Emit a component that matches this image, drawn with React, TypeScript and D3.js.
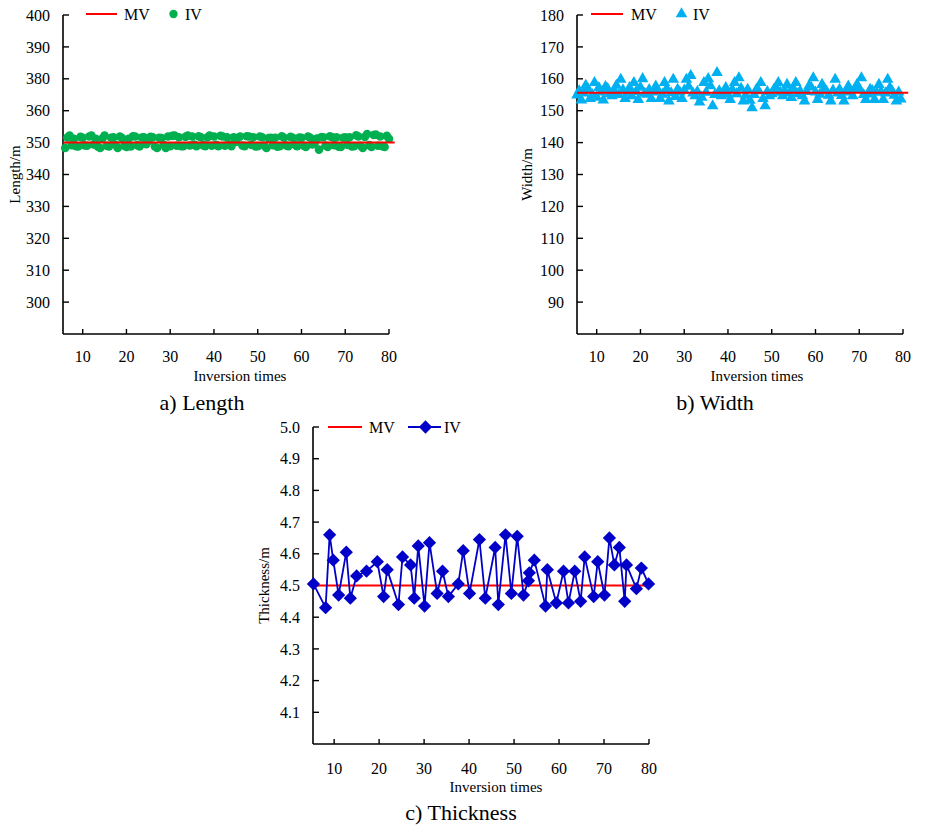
import React from "react";
import * as d3 from "d3";

// ---------- data ----------
const xTicks = [10, 20, 30, 40, 50, 60, 70, 80];

const lengthMV = 350;
// IV values at x = 6, 7, ..., 80
const lengthIV = [
  348.3, 352.2, 351.2, 348.8, 351.5, 349.0, 352.2, 351.2, 348.3, 352.2,
  348.8, 351.7, 348.3, 351.4, 348.6, 348.8, 351.9, 348.8, 351.7, 350.4,
  351.7, 348.3, 351.4, 348.3, 348.9, 352.2, 351.7, 348.9, 352.2, 351.9,
  348.9, 351.7, 348.9, 352.2, 351.9, 348.9, 351.9, 351.7, 348.9, 350.2,
  351.9, 348.9, 351.9, 351.7, 348.9, 351.7, 348.3, 351.5, 351.5, 348.9,
  351.5, 348.9, 351.5, 348.9, 351.5, 348.6, 351.5, 349.8, 347.8, 351.7,
  348.6, 351.7, 351.7, 348.6, 351.7, 351.7, 348.9, 351.9, 348.3, 352.7,
  348.6, 352.5, 351.9, 348.6, 351.2,
];
// IV values at x = 6.5, 7.5, ..., 79.5
const lengthIVHalf = [
  351.6, 349.2, 348.9, 351.8, 349.1, 351.9, 349.4, 348.7, 351.3, 349.0,
  351.5, 349.3, 351.9, 349.0, 351.2, 352.0, 349.2, 351.6, 349.5, 351.8,
  348.8, 351.5, 349.3, 351.9, 352.1, 349.0, 348.9, 351.8, 349.1, 349.4,
  352.0, 349.2, 351.6, 349.0, 349.3, 352.1, 349.0, 349.4, 351.7, 351.5,
  349.1, 352.0, 349.3, 348.8, 351.9, 349.0, 351.4, 349.2, 348.7, 352.0,
  349.1, 351.8, 349.3, 351.6, 349.0, 351.9, 349.4, 351.3, 351.7, 349.1,
  352.0, 349.2, 348.7, 351.5, 349.3, 348.8, 352.3, 349.0, 351.8, 349.2,
  352.4, 349.0, 348.9, 352.1,
];
const lengthTickValues = [300, 310, 320, 330, 340, 350, 360, 370, 380, 390];
const lengthTickLabels = ["300", "310", "320", "330", "340", "350", "360", "380", "390", "400"];

const widthMV = 155.6;
// IV values at x = 5.5, 6.5, ..., 79.5
const widthIV = [
  154.9, 153.3, 157.9, 153.8, 158.8, 157.2, 153.3, 156.9, 154.6, 157.9,
  159.8, 153.8, 157.2, 158.8, 153.5, 160.0, 155.1, 153.8, 157.7, 153.8,
  158.8, 153.0, 159.8, 156.7, 153.8, 159.8, 161.0, 154.6, 152.7, 158.8,
  160.0, 151.5, 161.9, 154.6, 157.2, 153.5, 158.8, 160.3, 153.0, 156.7,
  150.9, 156.7, 158.8, 151.5, 154.6, 156.7, 158.8, 154.6, 158.2, 154.1,
  158.8, 156.1, 153.0, 157.7, 160.3, 153.5, 158.2, 156.1, 153.0, 159.8,
  156.7, 153.0, 157.7, 154.6, 158.2, 160.3, 153.5, 156.7, 153.5, 158.2,
  153.5, 159.8, 156.1, 153.0, 153.6,
];
// IV values at x = 6.0, 7.0, ..., 79.0
const widthIVHalf = [
  156.2, 155.5, 156.8, 155.0, 154.2, 155.8, 157.5, 155.3, 156.3, 155.0,
  156.5, 155.7, 154.6, 156.0, 157.3, 155.4, 156.6, 155.8, 156.3, 155.1,
  156.9, 155.6, 154.4, 155.8, 156.4, 157.6, 155.5, 156.0, 154.2, 155.7,
  157.8, 155.0, 156.2, 155.9, 155.1, 156.6, 155.3, 157.0, 154.8, 153.2,
  155.0, 156.2, 153.8, 156.0, 155.3, 157.2, 155.7, 156.3, 155.5, 156.8,
  155.3, 154.6, 156.0, 157.4, 155.8, 155.1, 157.0, 154.8, 156.4, 155.5,
  154.7, 156.0, 155.8, 156.9, 156.8, 155.0, 155.2, 156.3, 155.7, 156.0,
  155.5, 157.2, 154.8, 155.8,
];
const widthTickValues = [90, 100, 110, 120, 130, 140, 150, 160, 170, 180];

const thickMV = 4.5;
const thickX = [
  5.4, 8.1, 9.0, 9.8, 11.0, 12.7, 13.6, 15.0, 17.2, 19.6,
  21.0, 21.8, 24.3, 25.2, 27.0, 27.8, 28.7, 30.1, 31.2, 32.9,
  34.1, 35.4, 37.6, 38.7, 40.1, 42.3, 43.6, 45.8, 46.5, 48.1,
  49.4, 50.7, 52.1, 53.2, 53.4, 54.5, 57.0, 57.4, 59.4, 61.0,
  62.1, 63.5, 64.8, 65.7, 67.7, 68.6, 70.1, 71.2, 72.3, 73.4,
  74.6, 75.0, 77.2, 78.3, 79.9,
];
const thickIV = [
  4.505, 4.43, 4.66, 4.58, 4.47, 4.605, 4.46, 4.53, 4.545, 4.575,
  4.465, 4.55, 4.44, 4.59, 4.565, 4.46, 4.625, 4.435, 4.635, 4.475,
  4.545, 4.465, 4.505, 4.61, 4.475, 4.645, 4.46, 4.62, 4.44, 4.66,
  4.475, 4.655, 4.47, 4.515, 4.54, 4.58, 4.435, 4.55, 4.445, 4.545,
  4.445, 4.545, 4.45, 4.59, 4.465, 4.575, 4.47, 4.65, 4.565, 4.62,
  4.45, 4.565, 4.49, 4.555, 4.505,
];
const thickTickValues = [4.1, 4.2, 4.3, 4.4, 4.5, 4.6, 4.7, 4.8, 4.9, 5.0];

// ---------- styles ----------
const FONT = "'Liberation Serif', 'Times New Roman', serif";
const RED = "#FF0000";
const GREEN = "#00B050";
const CYAN = "#00B0F0";
const BLUE = "#0000C8";

type AxisProps = {
  x: d3.ScaleLinear<number, number>;
  y: d3.ScaleLinear<number, number>;
  yTicks: number[];
  yLabels: string[];
  yTitle: string;
  yTitleX: number;
  xTitleX: number;
  xTitleY: number;
  caption: string;
  captionX: number;
  captionY: number;
  xLabelY: number;
};

function Axes(p: AxisProps) {
  const [x0, x1] = p.x.range();
  const [y0, y1] = p.y.range(); // y0 bottom, y1 top
  return (
    <g>
      <line x1={x0} x2={x0} y1={y0} y2={y1} stroke="#000" strokeWidth={1.6} />
      <line x1={x0} x2={x1} y1={y0} y2={y0} stroke="#000" strokeWidth={1.6} />
      {p.yTicks.map((t, i) => (
        <g key={"y" + i}>
          <line x1={x0} x2={x0 + 6} y1={p.y(t)} y2={p.y(t)} stroke="#000" strokeWidth={1.4} />
          <text x={x0 - 13} y={p.y(t)} dy="0.35em" textAnchor="end" fontSize={16} fontFamily={FONT}>
            {p.yLabels[i]}
          </text>
        </g>
      ))}
      {xTicks.map((t) => (
        <g key={"x" + t}>
          <line x1={p.x(t)} x2={p.x(t)} y1={y0} y2={y0 - 5} stroke="#000" strokeWidth={1.4} />
          <text x={p.x(t)} y={p.xLabelY} textAnchor="middle" fontSize={16} fontFamily={FONT}>
            {t}
          </text>
        </g>
      ))}
      <text x={p.xTitleX} y={p.xTitleY} textAnchor="middle" fontSize={15} fontFamily={FONT}>
        Inversion times
      </text>
      <text
        transform={`translate(${p.yTitleX},${(y0 + y1) / 2}) rotate(-90)`}
        textAnchor="middle"
        dy="0.35em"
        fontSize={15}
        fontFamily={FONT}
      >
        {p.yTitle}
      </text>
      <text x={p.captionX} y={p.captionY} textAnchor="middle" fontSize={22} fontFamily={FONT}>
        {p.caption}
      </text>
    </g>
  );
}

export default function App() {
  // Panel a
  const xA = d3.scaleLinear().domain([5.5, 80]).range([63, 389]);
  const yA = d3.scaleLinear().domain([290, 390]).range([334, 15]);
  // Panel b
  const xB = d3.scaleLinear().domain([5.5, 80]).range([577, 903]);
  const yB = d3.scaleLinear().domain([80, 180]).range([334, 15]);
  // Panel c
  const xC = d3.scaleLinear().domain([5.3, 80]).range([313, 649]);
  const yC = d3.scaleLinear().domain([4.0, 5.0]).range([744, 427]);

  const tri = d3.symbol(d3.symbolTriangle, 58)() as string;
  const diamond = d3.symbol(d3.symbolSquare, 88)() as string;

  const lineC = d3
    .line<number>()
    .x((_, i) => xC(thickX[i]))
    .y((d) => yC(d));

  return (
    <svg
      width={926}
      height={825}
      style={{ position: "absolute", left: 0, top: 0, background: "#fff", display: "block" }}
    >
      <rect width={926} height={825} fill="#fff" />

      {/* ---------- Panel a ---------- */}
      <Axes
        x={xA}
        y={yA}
        yTicks={lengthTickValues}
        yLabels={lengthTickLabels}
        yTitle="Length/m"
        yTitleX={15}
        xTitleX={240}
        xTitleY={381}
        caption="a) Length"
        captionX={202}
        captionY={410}
        xLabelY={362}
      />
      {lengthIVHalf.map((v, i) => (
        <circle key={"h" + i} cx={xA(6.5 + i)} cy={yA(v)} r={4.3} fill={GREEN} />
      ))}
      {lengthIV.map((v, i) => (
        <circle key={i} cx={xA(6 + i)} cy={yA(v)} r={4.3} fill={GREEN} />
      ))}
      <line x1={xA(5.5)} x2={xA(81.3)} y1={yA(lengthMV)} y2={yA(lengthMV)} stroke={RED} strokeWidth={2} />
      {/* legend a */}
      <line x1={86} x2={117} y1={14} y2={14} stroke={RED} strokeWidth={2} />
      <text x={124} y={14} dy="0.35em" fontSize={16} fontFamily={FONT}>MV</text>
      <circle cx={173.5} cy={14} r={4.2} fill={GREEN} />
      <text x={185} y={14} dy="0.35em" fontSize={16} fontFamily={FONT}>IV</text>

      {/* ---------- Panel b ---------- */}
      <Axes
        x={xB}
        y={yB}
        yTicks={widthTickValues}
        yLabels={widthTickValues.map(String)}
        yTitle="Width/m"
        yTitleX={527}
        xTitleX={757}
        xTitleY={381}
        caption="b) Width"
        captionX={715}
        captionY={410}
        xLabelY={362}
      />
      {widthIVHalf.map((v, i) => (
        <path key={"h" + i} d={tri} transform={`translate(${xB(6 + i)},${yB(v)})`} fill={CYAN} />
      ))}
      {widthIV.map((v, i) => (
        <path key={i} d={tri} transform={`translate(${xB(5.5 + i)},${yB(v)})`} fill={CYAN} />
      ))}
      <line x1={xB(5.5)} x2={xB(81.2)} y1={yB(widthMV)} y2={yB(widthMV)} stroke={RED} strokeWidth={2} />
      {/* legend b */}
      <line x1={591} x2={623} y1={14} y2={14} stroke={RED} strokeWidth={2} />
      <text x={631} y={14} dy="0.35em" fontSize={16} fontFamily={FONT}>MV</text>
      <path d={tri} transform={`translate(681.5,14)`} fill={CYAN} />
      <text x={693} y={14} dy="0.35em" fontSize={16} fontFamily={FONT}>IV</text>

      {/* ---------- Panel c ---------- */}
      <Axes
        x={xC}
        y={yC}
        yTicks={thickTickValues}
        yLabels={thickTickValues.map((d) => d.toFixed(1))}
        yTitle="Thickness/m"
        yTitleX={264}
        xTitleX={496}
        xTitleY={792}
        caption="c) Thickness"
        captionX={461}
        captionY={820}
        xLabelY={774}
      />
      <line x1={xC(5.3)} x2={xC(80.3)} y1={yC(thickMV)} y2={yC(thickMV)} stroke={RED} strokeWidth={2} />
      <path d={lineC(thickIV) as string} fill="none" stroke={BLUE} strokeWidth={1.8} />
      {thickIV.map((v, i) => (
        <path
          key={i}
          d={diamond}
          transform={`translate(${xC(thickX[i])},${yC(v)}) rotate(45)`}
          fill={BLUE}
        />
      ))}
      {/* legend c */}
      <line x1={328} x2={362} y1={427} y2={427} stroke={RED} strokeWidth={2} />
      <text x={369} y={427} dy="0.35em" fontSize={16} fontFamily={FONT}>MV</text>
      <line x1={408} x2={441} y1={427} y2={427} stroke={BLUE} strokeWidth={1.8} />
      <path d={diamond} transform={`translate(425.5,427) rotate(45)`} fill={BLUE} />
      <text x={444} y={427} dy="0.35em" fontSize={16} fontFamily={FONT}>IV</text>
    </svg>
  );
}
